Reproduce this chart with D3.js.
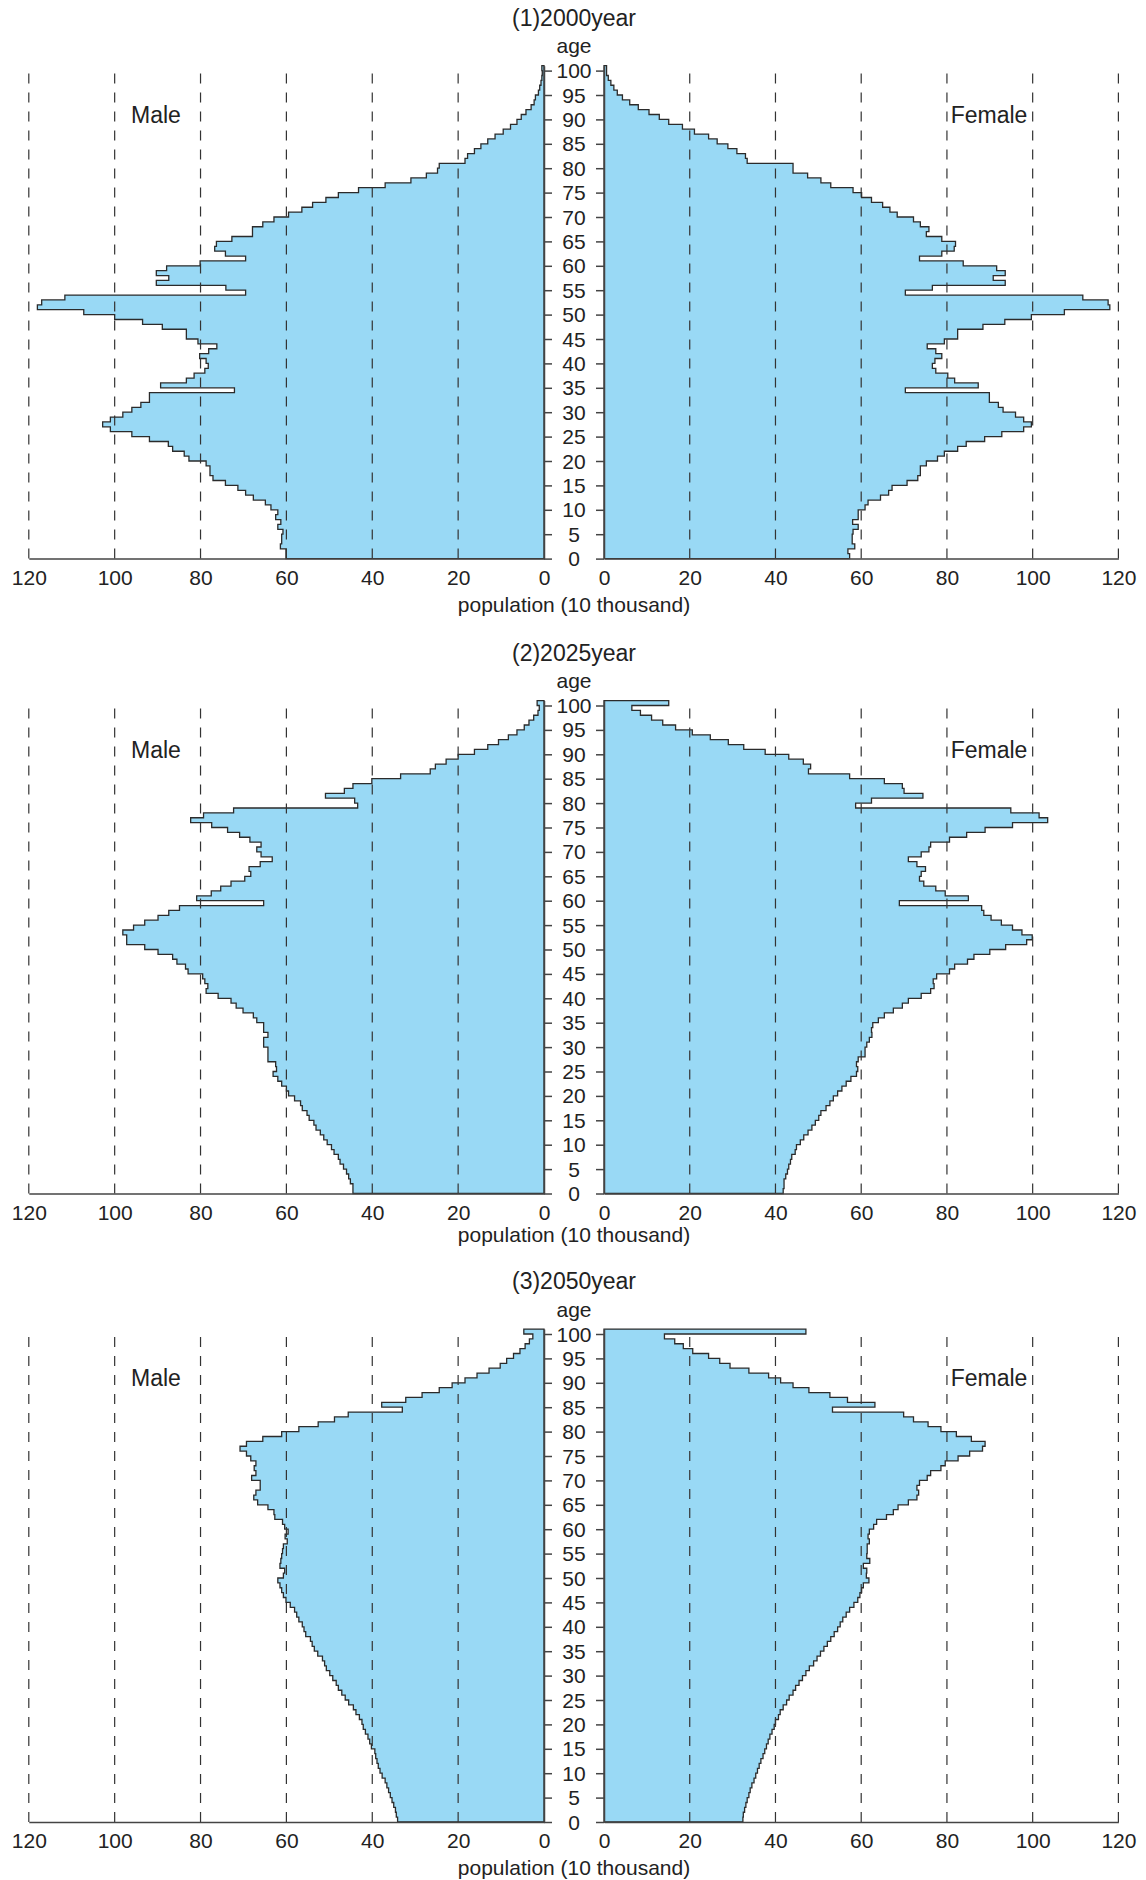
<!DOCTYPE html>
<html>
<head>
<meta charset="utf-8">
<script src="https://cdn.jsdelivr.net/npm/d3@7"></script>
<style>
  body { margin: 0; background: #fff; }
  text { font-family: "Liberation Sans", Arial, sans-serif; fill: #222; }
</style>
</head>
<body>
<svg id="chart" width="1146" height="1880"></svg>
<script>
// population by single year of age 0..100 (10 thousand)
const titles = ["(1)2000year", "(2)2025year", "(3)2050year"];
const gridValues = [20, 40, 60, 80, 100, 120];
const xTicks = [0, 20, 40, 60, 80, 100, 120];
const ageTicks = d3.range(0, 101, 5);

const male2000 = [
  60.1, 60.1, 61.4, 61.1, 61.1, 60.8, 62.0, 61.3, 62.5, 62.0,
  63.6, 64.9, 67.7, 69.5, 71.3, 74.2, 77.1, 77.8, 77.8, 78.7,
  82.7, 83.8, 86.5, 87.5, 91.9, 96.0, 101.0, 102.8, 101.0, 98.1,
  96.0, 93.9, 91.9, 91.9, 72.1, 89.3, 83.3, 81.5, 79.0, 78.2,
  78.7, 80.2, 78.1, 76.2, 80.6, 83.3, 83.3, 88.9, 93.5, 100.0,
  107.2, 118.0, 117.0, 111.6, 69.5, 74.1, 90.3, 87.4, 90.3, 87.9,
  80.1, 69.5, 74.2, 76.7, 76.3, 72.7, 67.9, 67.9, 65.5, 62.9,
  59.5, 56.4, 53.9, 50.8, 47.9, 43.2, 37.0, 31.0, 27.4, 24.8,
  24.4, 18.4, 17.8, 16.2, 14.7, 13.1, 11.4, 9.5, 7.8, 6.3,
  5.3, 4.2, 3.0, 2.3, 2.0, 1.3, 1.0, 0.7, 0.5, 0.4, 0.5
];
const female2000 = [
  57.3, 56.9, 58.5, 57.9, 57.9, 58.1, 59.3, 58.0, 59.3, 59.3,
  60.9, 61.6, 64.5, 66.4, 67.2, 70.7, 73.2, 73.8, 73.8, 75.2,
  77.8, 79.4, 82.5, 84.5, 88.8, 92.8, 97.9, 99.7, 97.9, 96.0,
  93.1, 92.0, 89.9, 89.9, 70.3, 87.3, 81.8, 80.2, 77.4, 76.6,
  77.2, 78.8, 77.4, 75.4, 79.4, 82.5, 82.5, 88.4, 93.5, 99.7,
  107.4, 118.0, 117.6, 111.7, 70.3, 76.6, 93.6, 90.8, 93.6, 91.6,
  83.8, 73.6, 78.8, 81.7, 82.0, 78.8, 75.2, 75.8, 73.8, 72.2,
  68.4, 66.7, 65.0, 62.4, 60.1, 58.1, 52.9, 50.6, 47.5, 44.1,
  44.1, 33.4, 33.0, 31.0, 28.9, 26.4, 24.4, 21.1, 18.3, 15.1,
  12.9, 10.5, 8.0, 6.0, 4.3, 3.1, 2.3, 1.6, 1.0, 0.6, 0.6
];
const male2025 = [
  44.5, 44.5, 45.1, 45.5, 46.0, 46.7, 47.5, 47.9, 48.9, 49.5,
  50.5, 51.3, 52.1, 53.1, 53.6, 54.7, 55.2, 56.3, 56.7, 58.1,
  59.5, 60.0, 61.1, 62.0, 63.1, 62.3, 62.5, 64.3, 64.3, 64.3,
  65.3, 65.3, 64.3, 65.3, 65.3, 66.9, 67.7, 70.1, 71.7, 72.9,
  75.9, 78.7, 78.3, 79.0, 79.5, 82.9, 83.5, 85.5, 86.5, 89.9,
  93.0, 97.2, 97.2, 98.1, 95.6, 93.0, 89.9, 87.4, 84.9, 65.3,
  80.9, 77.5, 75.3, 72.9, 69.7, 68.3, 68.7, 66.1, 63.3, 65.9,
  66.9, 65.9, 68.5, 70.9, 73.7, 77.4, 82.3, 79.3, 72.3, 43.4,
  44.1, 50.9, 46.5, 44.5, 40.1, 33.4, 26.5, 25.3, 22.8, 20.0,
  16.2, 13.1, 10.6, 8.3, 6.3, 4.6, 3.5, 2.4, 1.4, 1.1, 1.6
];
const female2025 = [
  41.8, 42.0, 42.0, 42.4, 42.8, 43.1, 43.5, 43.8, 44.6, 44.9,
  45.8, 46.6, 47.6, 48.5, 49.3, 50.1, 50.6, 51.8, 52.7, 53.5,
  54.5, 55.5, 56.5, 57.6, 58.9, 59.2, 58.9, 59.3, 60.9, 60.9,
  61.3, 61.9, 62.5, 62.4, 62.7, 64.0, 65.4, 67.5, 69.6, 71.0,
  74.0, 76.2, 77.0, 76.8, 77.6, 80.6, 81.8, 84.8, 86.3, 90.0,
  93.7, 98.6, 99.9, 97.5, 95.3, 92.7, 90.3, 88.6, 88.1, 68.9,
  85.0, 79.6, 77.4, 74.6, 73.6, 74.0, 75.0, 73.0, 71.0, 74.0,
  75.8, 76.2, 80.6, 84.6, 88.9, 95.3, 103.5, 101.5, 94.9, 58.7,
  62.4, 74.4, 70.0, 69.6, 65.4, 57.3, 47.7, 48.2, 46.5, 43.1,
  37.6, 32.6, 29.0, 24.8, 20.6, 16.7, 13.7, 11.1, 8.5, 6.5, 15.1
];
const male2050 = [
  34.1, 34.4, 34.6, 35.0, 35.4, 35.8, 36.2, 36.6, 37.0, 37.7,
  38.2, 38.6, 38.9, 39.2, 39.4, 40.2, 40.6, 41.0, 41.6, 42.1,
  42.4, 43.0, 43.8, 44.4, 45.5, 46.3, 47.1, 47.9, 48.4, 49.2,
  49.9, 50.7, 51.1, 51.6, 52.7, 53.5, 54.0, 54.4, 55.5, 55.9,
  56.3, 57.1, 57.6, 58.1, 59.1, 60.1, 60.7, 61.1, 61.5, 62.0,
  60.7, 60.4, 61.5, 61.3, 61.1, 60.9, 60.7, 59.8, 60.3, 59.6,
  60.4, 60.9, 62.7, 62.9, 64.3, 66.7, 67.6, 67.1, 66.1, 66.1,
  68.1, 67.1, 67.5, 67.1, 68.3, 69.3, 70.8, 69.3, 65.5, 61.1,
  57.1, 52.6, 48.8, 45.6, 33.0, 37.8, 32.2, 28.4, 24.4, 21.4,
  18.4, 15.6, 12.8, 10.2, 8.7, 7.1, 5.6, 4.4, 3.4, 2.6, 4.7
];
const female2050 = [
  32.4, 32.5, 32.8, 33.1, 33.4, 33.8, 34.1, 34.5, 35.0, 35.4,
  35.8, 36.2, 36.6, 37.1, 37.5, 37.9, 38.3, 38.7, 39.2, 39.7,
  40.0, 40.7, 41.1, 41.8, 42.6, 43.2, 44.1, 44.7, 45.5, 46.3,
  47.1, 47.9, 48.9, 49.7, 50.5, 51.3, 52.1, 52.9, 53.7, 54.5,
  55.1, 55.7, 56.5, 57.3, 58.3, 59.2, 59.7, 60.1, 60.5, 61.8,
  61.2, 61.3, 60.5, 62.0, 61.3, 61.4, 61.4, 61.9, 61.6, 61.9,
  62.9, 63.6, 65.9, 67.5, 68.6, 71.0, 73.0, 73.4, 73.0, 73.6,
  75.4, 76.2, 78.6, 79.6, 82.6, 85.3, 88.3, 88.9, 85.7, 82.2,
  78.6, 75.6, 72.2, 69.9, 53.3, 63.2, 56.8, 52.7, 47.8, 44.1,
  41.2, 38.4, 33.8, 29.4, 27.0, 24.4, 20.7, 18.5, 16.5, 14.1, 47.1
];

const maleSeries = [male2000, male2025, male2050];
const femaleSeries = [female2000, female2025, female2050];

// layout
const panelBottoms = [558.6, 1193.5, 1822];
const xlabelGaps = [45.5, 41, 45.5];
const yearPx = 4.88;

const svg = d3.select("#chart");

const xL = d3.scaleLinear().domain([0, 120]).range([544, 28.8]);
const xR = d3.scaleLinear().domain([0, 120]).range([604, 1118.4]);
const midX = (xL(0) + xR(0)) / 2;

// outline of one side as a closed staircase
function stepPoints(values) {
  const pts = [[0, 0]];
  values.forEach((v, a) => {
    pts.push([v, a]);
    pts.push([v, a + 1]);
  });
  pts.push([0, values.length]);
  return pts;
}

titles.forEach((title, i) => {
  const bottom = panelBottoms[i];
  const y = d3.scaleLinear().domain([0, 101]).range([bottom, bottom - yearPx * 101]);
  const g = svg.append("g");

  [[maleSeries[i], xL], [femaleSeries[i], xR]].forEach(([vals, x]) => {
    const line = d3.line()
      .x(d => x(d[0]))
      .y(d => y(d[1]));
    g.append("path")
      .datum(stepPoints(vals))
      .attr("d", d => line(d) + "Z")
      .attr("fill", "#99d9f5")
      .attr("stroke", "#2b2b2b")
      .attr("stroke-width", 1.3)
      .attr("stroke-linejoin", "miter");
  });

  // dashed grid
  [xL, xR].forEach(x => {
    g.selectAll(null)
      .data(gridValues)
      .enter().append("line")
      .attr("x1", d => x(d))
      .attr("x2", d => x(d))
      .attr("y1", y(0))
      .attr("y2", y(101))
      .attr("stroke", "#333")
      .attr("stroke-width", 1.2)
      .attr("stroke-dasharray", "10,9");
  });

  // age axes
  const ageR = g.append("g")
    .attr("transform", "translate(" + xL(0) + ",0)")
    .call(d3.axisRight(y).tickValues(ageTicks).tickSize(8).tickSizeOuter(0).tickFormat(""));
  const ageL = g.append("g")
    .attr("transform", "translate(" + xR(0) + ",0)")
    .call(d3.axisLeft(y).tickValues(ageTicks).tickSize(8).tickSizeOuter(0).tickFormat(""));
  [ageR, ageL].forEach(ax => {
    ax.selectAll("path, line").attr("stroke", "#444").attr("stroke-width", 1.5);
  });

  g.selectAll(null)
    .data(ageTicks)
    .enter().append("text")
    .attr("x", midX)
    .attr("y", d => y(d))
    .attr("text-anchor", "middle")
    .attr("dominant-baseline", "central")
    .attr("font-size", 21)
    .text(d => d);

  // population axes
  [xL, xR].forEach(x => {
    const ax = g.append("g")
      .attr("transform", "translate(0," + bottom + ")")
      .call(d3.axisBottom(x).tickValues(xTicks).tickSize(0).tickSizeOuter(0).tickPadding(11.5));
    ax.select(".domain").attr("stroke", "#444").attr("stroke-width", 1.5);
    ax.selectAll("text")
      .attr("font-size", 21)
      .attr("font-family", "Liberation Sans, Arial, sans-serif")
      .attr("fill", "#222");
  });

  g.append("text")
    .attr("x", midX)
    .attr("y", bottom + xlabelGaps[i])
    .attr("text-anchor", "middle")
    .attr("dominant-baseline", "central")
    .attr("font-size", 21)
    .text("population (10 thousand)");

  g.append("text")
    .attr("x", midX)
    .attr("y", bottom - 513)
    .attr("text-anchor", "middle")
    .attr("dominant-baseline", "central")
    .attr("font-size", 21)
    .text("age");

  g.append("text")
    .attr("x", midX)
    .attr("y", bottom - 541)
    .attr("text-anchor", "middle")
    .attr("dominant-baseline", "central")
    .attr("font-size", 23)
    .text(title);

  g.append("text")
    .attr("x", 156)
    .attr("y", bottom - 444)
    .attr("text-anchor", "middle")
    .attr("dominant-baseline", "central")
    .attr("font-size", 23)
    .text("Male");

  g.append("text")
    .attr("x", 989)
    .attr("y", bottom - 444)
    .attr("text-anchor", "middle")
    .attr("dominant-baseline", "central")
    .attr("font-size", 23)
    .text("Female");
});
</script>
</body>
</html>
